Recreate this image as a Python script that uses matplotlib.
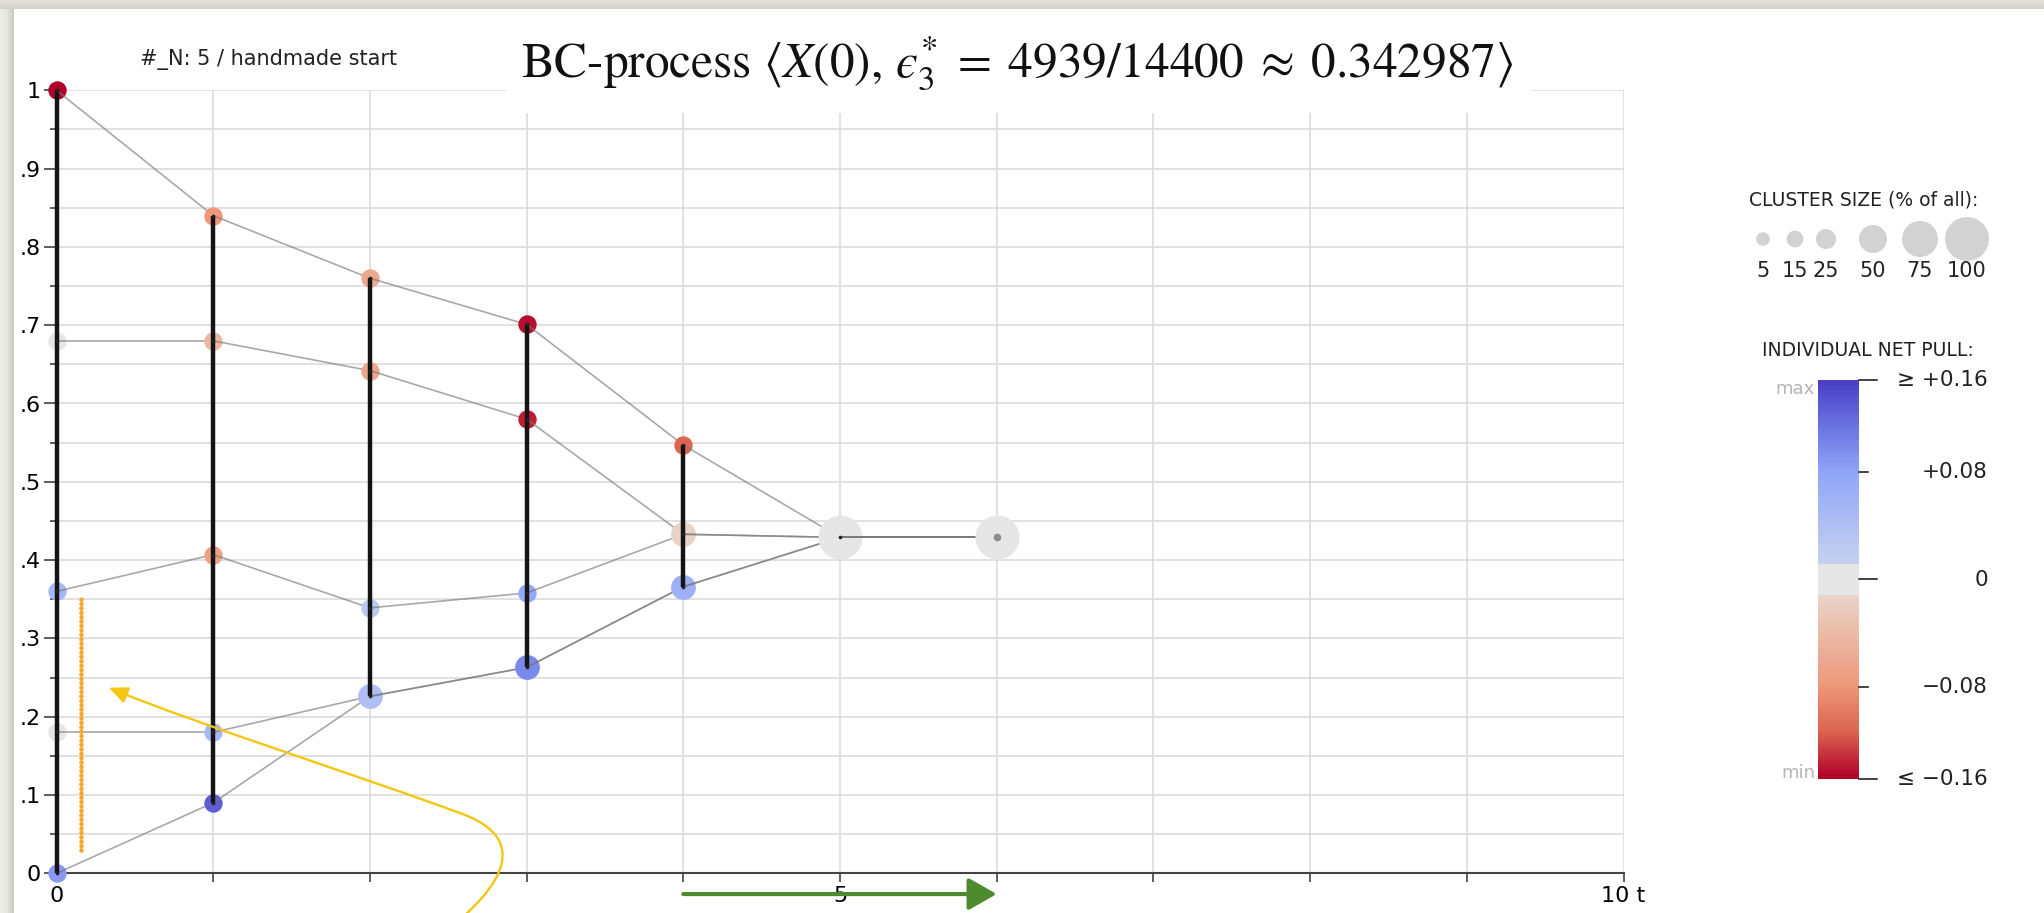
import numpy as np
import matplotlib
matplotlib.use("Agg")
import matplotlib.pyplot as plt
from matplotlib.colors import LinearSegmentedColormap
from matplotlib.patches import FancyArrowPatch, Rectangle
from matplotlib.path import Path
from matplotlib import font_manager

W, H, DPI = 2044, 913, 100
plt.rcParams["mathtext.fontset"] = "stix"

# ---- data -------------------------------------------------------------
steps = [0, 1, 2, 3, 4, 5, 6]
# opinion of each of the five agents at every step
agent_1 = [0.000, 0.090, 0.226, 0.263, 0.366, 0.429, 0.429]
agent_2 = [0.180, 0.180, 0.226, 0.263, 0.366, 0.429, 0.429]
agent_3 = [0.360, 0.407, 0.339, 0.358, 0.433, 0.429, 0.429]
agent_4 = [0.680, 0.680, 0.642, 0.580, 0.433, 0.429, 0.429]
agent_5 = [1.000, 0.840, 0.760, 0.701, 0.547, 0.429, 0.429]

y_ticks = [0.0, 0.1, 0.2, 0.3, 0.4, 0.5, 0.6, 0.7, 0.8, 0.9, 1.0]
y_tick_labels = ["0", ".1", ".2", ".3", ".4", ".5", ".6", ".7", ".8", ".9", "1"]
x_ticks = [0, 1, 2, 3, 4, 5, 6, 7, 8, 9, 10]
x_tick_labels = ["0", "", "", "", "", "5", "", "", "", "", "10 t"]

size_levels = [5, 15, 25, 50, 75, 100]
pull_limit = 0.16
pull_ticks = [0.16, 0.08, 0.0, -0.08, -0.16]
pull_tick_labels = ["\u2265 +0.16", "+0.08", "0", "\u22120.08", "\u2264 \u22120.16"]

title = ("BC-process $\\langle X(0),\\, \u03f5_3^{*} \\;=\\; 4939/14400"
         " \\;\\approx\\; 0.342987\\rangle$")
subtitle = "#_N: 5 / handmade start"

opinions = np.array([agent_1, agent_2, agent_3, agent_4, agent_5])
n_agents, n_steps = opinions.shape

# ---- styling helpers --------------------------------------------------
available = {f.name for f in font_manager.fontManager.ttflist}
tick_family = "Liberation Sans Narrow" if "Liberation Sans Narrow" in available else "DejaVu Sans"

band = 0.0375  # half-width of the neutral band in the pull scale
pull_cmap = LinearSegmentedColormap.from_list("pull", [
    (0.0, "#b0002a"),
    (0.116, "#dc6450"),
    (0.231, "#ee977a"),
    (0.4624, "#e9d6cb"),
    (0.4626, "#e6e6e6"),
    (0.5374, "#e6e6e6"),
    (0.5376, "#c7d2ef"),
    (0.769, "#92a6f9"),
    (0.884, "#6c74e2"),
    (1.0, "#4a3fc6"),
])


def pull_to_frac(v):
    if abs(v) < 1e-9:
        return 0.5
    m = min(abs(v) / pull_limit, 1.0)
    return 0.5 + np.sign(v) * (band + (0.5 - band) * m)


def share_to_points(share):
    # marker diameter grows with the cluster's share of all agents
    return (12.0 + 0.32 * share) * 72.0 / DPI


fig = plt.figure(figsize=(W / DPI, H / DPI), dpi=DPI, facecolor="white")

# ---- main axes --------------------------------------------------------
x0_px, x10_px, y0_px, y1_px = 56.5, 1623.5, 873.3, 90.3
ax = fig.add_axes([x0_px / W, (H - y0_px) / H, (x10_px - x0_px) / W, (y0_px - y1_px) / H])
ax.set_xlim(0, 10)
ax.set_ylim(0, 1)
ax.set_facecolor("white")

grid_kw = dict(color="#dcdcdc", lw=1.2, zorder=0.5, solid_capstyle="butt")
for gy in np.arange(0.05, 1.001, 0.05):
    ax.plot([0, 10], [gy, gy], **grid_kw)
for gx in range(1, 11):
    ax.plot([gx, gx], [0, 1], **grid_kw)

for side in ("top", "right"):
    ax.spines[side].set_visible(False)
ax.spines["left"].set_color("#111111")
ax.spines["left"].set_linewidth(1.5)
ax.spines["bottom"].set_color("#444444")
ax.spines["bottom"].set_linewidth(1.5)

ax.set_yticks(y_ticks)
ax.set_yticklabels(y_tick_labels, family=tick_family, fontsize=16)
ax.set_yticks(np.arange(0.05, 1.0, 0.1), minor=True)
ax.set_xticks(x_ticks)
ax.set_xticklabels(x_tick_labels, family=tick_family, fontsize=16)
ax.tick_params(axis="y", which="major", length=9.5, width=1.1, color="#333333", pad=2)
ax.tick_params(axis="y", which="minor", length=5, width=1.1, color="#333333")
ax.tick_params(axis="x", which="major", length=6.5, width=1.1, color="#333333", pad=3)

# trajectories, clusters and opinion spans, step by step
for t in steps:
    col = opinions[:, t]
    base = 3 + 3 * t
    vals, counts = np.unique(np.round(col, 3), return_counts=True)
    for v, c in zip(vals, counts):
        members = np.where(np.isclose(np.round(col, 3), v))[0]
        if t < n_steps - 1:
            pull = opinions[members[0], t + 1] - opinions[members[0], t]
        else:
            pull = 0.0
        share = 100.0 * c / n_agents
        ax.scatter([t], [v], s=share_to_points(share) ** 2,
                   color=pull_cmap(pull_to_frac(pull)), linewidths=0,
                   zorder=base, clip_on=False)
        if t < n_steps - 1:
            ax.scatter([t], [v], s=7, color="#222222", linewidths=0,
                       zorder=base + 2.5, clip_on=False)
        else:
            ax.scatter([t], [v], s=30, color="#8c8c8c", linewidths=0,
                       zorder=base + 2.5, clip_on=False)
    if t < n_steps - 1:
        for a in range(n_agents):
            ax.plot([t, t + 1], [opinions[a, t], opinions[a, t + 1]],
                    color="#7a7a7a", alpha=0.65, lw=1.2, zorder=base + 1,
                    solid_capstyle="butt")
    lo, hi = col.min(), col.max()
    if hi - lo > 1e-6:
        ax.plot([t, t], [lo, hi], color="#141414", lw=3.2, zorder=base + 2,
                solid_capstyle="butt", clip_on=False)

# hand-drawn annotations
ax.plot([0.157, 0.157], [0.03, 0.35], color="#f8a62a", lw=3.3,
        linestyle=(0, (0.01, 0.95)), dash_capstyle="round", zorder=40)

yellow_path = Path(
    [(2.30, -0.10), (2.72, -0.045), (3.12, 0.035), (2.6, 0.075),
     (2.0, 0.12), (0.9, 0.19), (0.334, 0.237)],
    [Path.MOVETO, Path.CURVE4, Path.CURVE4, Path.CURVE4,
     Path.CURVE4, Path.CURVE4, Path.CURVE4])
yellow = FancyArrowPatch(path=yellow_path,
                         arrowstyle="-|>,head_length=0.95,head_width=0.42",
                         mutation_scale=12, color="#f3c614", lw=1.7,
                         clip_on=False, zorder=41)
ax.add_patch(yellow)

green = FancyArrowPatch((4, -0.0265), (6, -0.0265),
                        arrowstyle="-|>,head_length=0.86,head_width=0.49",
                        mutation_scale=20, color="#4e8b2e", lw=3.0,
                        shrinkA=0, shrinkB=0, clip_on=False, zorder=41)
ax.add_patch(green)

# ---- overlay in pixel coordinates ------------------------------------
ov = fig.add_axes([0, 0, 1, 1], zorder=10)
ov.set_autoscale_on(False)
ov.set_xlim(0, W)
ov.set_ylim(H, 0)
ov.axis("off")
ov.patch.set_visible(False)

# title plate
ov.add_patch(Rectangle((507, 0), 1024, 113, facecolor="white", edgecolor="none", zorder=1))
ov.text(1017, 77, title, ha="center", va="baseline", fontsize=35.5,
        family="STIXGeneral", color="#111111", zorder=2)
ov.text(269, 59, subtitle, ha="center", va="center", fontsize=15,
        family="DejaVu Sans", color="#222222", zorder=2)

# window frame
top_cmap = LinearSegmentedColormap.from_list("top", ["#e4e4dc", "#d2d2ca"])
left_cmap = LinearSegmentedColormap.from_list("left", ["#eeeee6", "#e6e6de", "#cbcbc3"])
ov.imshow(np.linspace(0, 1, 10).reshape(-1, 1), cmap=top_cmap, extent=(0, W, 9.5, 0),
          aspect="auto", zorder=5)
ov.imshow(np.linspace(0, 1, 14).reshape(1, -1), cmap=left_cmap, extent=(0, 14, H, 9.5),
          aspect="auto", zorder=5)

# cluster size legend
ov.text(1978, 200, "CLUSTER SIZE (% of all):", ha="right", va="center",
        fontsize=13.5, family="DejaVu Sans", color="#222222")
size_x = [1763, 1795, 1826, 1873, 1920, 1967]
ov.scatter(size_x, [239] * len(size_levels),
           s=[share_to_points(s) ** 2 for s in size_levels],
           color="#d2d2d2", linewidths=0)
for sx, s in zip(size_x, size_levels):
    ov.text(sx, 271, str(s), ha="center", va="center", fontsize=15,
            family="DejaVu Sans", color="#222222")

# net pull colour scale
ov.text(1974, 350, "INDIVIDUAL NET PULL:", ha="right", va="center",
        fontsize=13.5, family="DejaVu Sans", color="#222222")
cb_left, cb_right, cb_top, cb_bottom = 1818, 1859, 380, 779
frac_col = np.linspace(1, 0, 400).reshape(-1, 1)
ov.imshow(frac_col, cmap=pull_cmap, vmin=0, vmax=1, aspect="auto",
          extent=(cb_left, cb_right, cb_bottom, cb_top), interpolation="nearest")
for v, lab in zip(pull_ticks, pull_tick_labels):
    yy = cb_top + (1 - pull_to_frac(v)) * (cb_bottom - cb_top)
    tl = 9 if abs(abs(v) - 0.08) < 1e-9 else 18
    ov.plot([cb_right, cb_right + tl], [yy, yy], color="#111111", lw=1.1)
    ov.text(1988, yy, lab, ha="right", va="center", fontsize=15.5,
            family="DejaVu Sans", color="#222222")
ov.text(1815, cb_top + 9, "max", ha="right", va="center", fontsize=13,
        family="DejaVu Sans", color="#b5b5b5")
ov.text(1815, cb_bottom - 6, "min", ha="right", va="center", fontsize=13,
        family="DejaVu Sans", color="#b5b5b5")

fig.savefig("out.png", dpi=DPI, facecolor="white")
